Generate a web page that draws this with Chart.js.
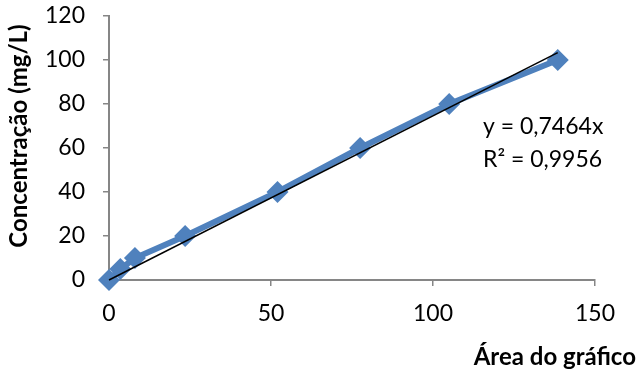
<!DOCTYPE html>
<html>
<head>
<meta charset="utf-8">
<script src="https://cdn.jsdelivr.net/npm/chart.js@4/dist/chart.umd.min.js"></script>
<style>
  html, body { margin: 0; padding: 0; background: #fff; }
  #wrap { width: 639px; height: 374px; }
</style>
</head>
<body>
<div id="wrap"><canvas id="c" width="639" height="374"></canvas></div>
<script>
// Calibration data: peak area vs. concentration
const areas = [0, 3.5, 8, 23.5, 52, 77.5, 105, 138.5];
const concentrations = [0, 5, 10, 20, 40, 60, 80, 100];
const xTicks = [0, 50, 100, 150];
const yTicks = [0, 20, 40, 60, 80, 100, 120];
const slope = 0.7464;
const rSquared = '0,9956';

const FONT = 'Lato, "Open Sans", sans-serif';
const blue = '#4F81BD';
const axisGray = '#868686';

// Linear trendline through the origin, spanning the measured range
const xMax = Math.max(...areas);
const trend = [{x: 0, y: 0}, {x: xMax, y: slope * xMax}];
const points = areas.map((a, i) => ({x: a, y: concentrations[i]}));

const fmt = v => String(v).replace('.', ',');

const annotations = {
  id: 'annotations',
  afterDraw(chart) {
    const ctx = chart.ctx;
    ctx.save();
    ctx.fillStyle = '#000';
    // equation of the trendline
    ctx.font = '23px ' + FONT;
    ctx.textAlign = 'left';
    ctx.textBaseline = 'middle';
    ctx.fillText('y = ' + fmt(slope) + 'x', 483, 127);
    ctx.fillText('R\u00B2 = ' + rSquared, 483, 160);
    // axis titles
    ctx.font = 'bold 24px ' + FONT;
    ctx.textAlign = 'right';
    ctx.fillText('\u00C1rea do gr\u00E1fico', 636, 357);
    ctx.translate(19, 136);
    ctx.rotate(-Math.PI / 2);
    ctx.textAlign = 'center';
    ctx.fillText('Concentra\u00E7\u00E3o (mg/L)', 0, 0);
    ctx.restore();
  }
};

new Chart(document.getElementById('c'), {
  type: 'scatter',
  data: {
    datasets: [
      {
        label: 'Linear',
        data: trend,
        showLine: true,
        borderColor: '#000',
        borderWidth: 1.5,
        pointRadius: 0,
        clip: false,
        order: 0
      },
      {
        label: 'Concentração',
        data: points,
        showLine: true,
        borderColor: blue,
        borderWidth: 6,
        backgroundColor: blue,
        pointStyle: 'rectRot',
        pointRadius: 11,
        pointBorderWidth: 0,
        clip: false,
        order: 1
      }
    ]
  },
  options: {
    responsive: false,
    animation: false,
    devicePixelRatio: 1,
    layout: { padding: { top: 16, right: 44, left: 0, bottom: 0 } },
    plugins: { legend: { display: false }, tooltip: { enabled: false } },
    scales: {
      x: {
        type: 'linear',
        min: 0, max: 150,
        afterBuildTicks: s => { s.ticks = xTicks.map(v => ({value: v})); },
        afterFit: s => { s.height = 94; s.paddingLeft = 0; s.paddingRight = 0; },
        grid: { drawOnChartArea: false, color: axisGray, tickLength: 6, lineWidth: 1.5 },
        border: { color: axisGray, width: 2 },
        ticks: { color: '#000', font: { family: FONT, size: 23 }, padding: 14 }
      },
      y: {
        type: 'linear',
        min: 0, max: 120,
        afterBuildTicks: s => { s.ticks = yTicks.map(v => ({value: v})); },
        afterFit: s => { s.width = 109; s.paddingTop = 0; s.paddingBottom = 0; },
        grid: { drawOnChartArea: false, color: axisGray, tickLength: 6, lineWidth: 1.5 },
        border: { color: axisGray, width: 2 },
        ticks: { color: '#000', font: { family: FONT, size: 23 }, padding: 18 }
      }
    }
  },
  plugins: [annotations]
});
</script>
</body>
</html>
